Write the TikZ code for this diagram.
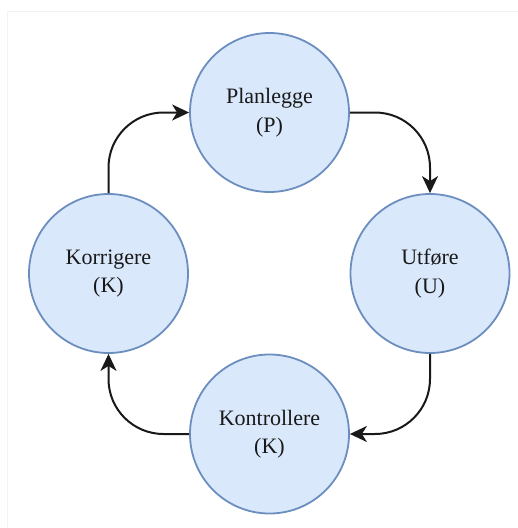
\documentclass[tikz,border=0pt]{standalone}
\usepackage{fontspec}
\setmainfont{Liberation Serif}
\usetikzlibrary{arrows.meta}
\definecolor{cfill}{HTML}{DAE8FC}
\definecolor{cline}{HTML}{6C8EBF}
\definecolor{frame}{HTML}{F3F3F3}
\tikzset{
  phase/.style={circle, draw=cline, fill=cfill, line width=1.8pt, minimum size=159pt,
    inner sep=0pt, align=center, font=\fontsize{22}{28.5}\selectfont, text=black!90},
  flow/.style={line width=2pt, draw=black!90, rounded corners=55pt,
    -{Stealth[length=17pt, width=16pt, inset=5pt]}}
}
\begin{document}
\begin{tikzpicture}[x=1pt, y=-1pt]
\useasboundingbox (0,0) rectangle (518,528);
\draw[frame, line width=0.8pt] (7,528) -- (7,11) -- (518,11);
\node[phase] (p) at (269.5,112.5) {Planlegge\\(P)};
\node[phase] (u) at (430,273.5) {Utføre\\(U)};
\node[phase] (k) at (269.5,434) {Kontrollere\\(K)};
\node[phase] (kor) at (108.5,273.5) {Korrigere\\(K)};
\draw[flow] (kor.north) |- (p.west);
\draw[flow] (p.east) -| (u.north);
\draw[flow] (u.south) |- (k.east);
\draw[flow] (k.west) -| (kor.south);
\end{tikzpicture}
\end{document}
